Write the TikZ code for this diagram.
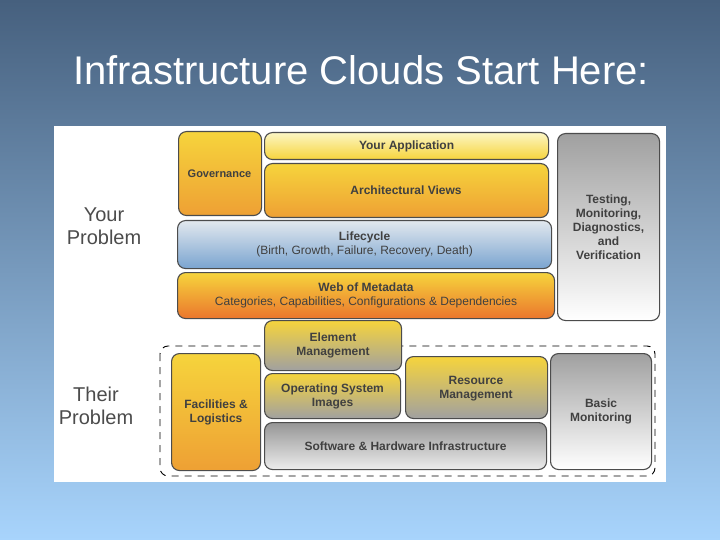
\documentclass[tikz,border=0pt]{standalone}
\usepackage{fontspec}
\setmainfont{Liberation Sans}
\definecolor{oy}{RGB}{246,212,60}
\definecolor{oo}{RGB}{238,160,52}
\definecolor{ly}{RGB}{252,246,196}
\definecolor{lb}{RGB}{226,232,238}
\definecolor{db}{RGB}{122,164,208}
\definecolor{rr}{RGB}{232,90,40}
\definecolor{gt}{RGB}{160,160,160}
\definecolor{gm}{RGB}{150,150,150}
\definecolor{bg1}{RGB}{70,96,126}
\definecolor{bg2}{RGB}{168,212,252}
\begin{document}
\begin{tikzpicture}[x=1pt,y=-1pt,
  bx/.style={draw=black!70,line width=1.1pt,rounded corners=8pt,align=center,font=\bfseries\fontsize{12}{14}\selectfont,text=black!75,inner sep=0pt},
  orng/.style={bx,top color=oy,bottom color=oo},
  yell/.style={bx,top color=ly,bottom color=oy},
  blu/.style={bx,top color=lb,bottom color=db},
  red/.style={bx,top color=oy,bottom color=rr!60!oo},
  gry/.style={bx,top color=gt,bottom color=white},
  yg/.style={bx,top color=oy,bottom color=gm!90},
  gg/.style={bx,top color=gm,bottom color=gray!15},
  lbl/.style={font=\fontsize{20}{23}\selectfont,text=black!70,align=center}]
\useasboundingbox (0,0) rectangle (720,540);
\shade[top color=bg1,bottom color=bg2] (0,0) rectangle (720,540);
\node[text=white,font=\fontsize{40}{44}\selectfont] (title) at (361,70) {Infrastructure Clouds Start Here:};
\fill[white] (54,126) rectangle (666,482);
\node[lbl] (yp) at (104,226) {Your\\Problem};
\node[lbl] (tp) at (96,406) {Their\\Problem};
\draw[dashed,dash pattern=on 7pt off 6pt,line width=0.9pt,rounded corners=8pt] (160,346) rectangle (655,476);
\node[orng,minimum width=83,minimum height=84,anchor=north west] (gov) at (178,131) {};
\node[font=\bfseries\fontsize{11}{13}\selectfont,text=black!75] (govt) at (219.5,174) {Governance};
\node[yell,minimum width=284,minimum height=27,anchor=north west] (app) at (264,132) {Your Application};
\node[orng,minimum width=284,minimum height=54,anchor=north west] (arch) at (264,163) {};
\node[font=\bfseries\fontsize{12}{14}\selectfont,text=black!75] (archt) at (406,190) {Architectural Views};
\node[blu,minimum width=374,minimum height=48,anchor=north west] (life) at (177,220) {Lifecycle\\\mdseries(Birth, Growth, Failure, Recovery, Death)};
\node[red,minimum width=377,minimum height=46,anchor=north west] (meta) at (177,272) {Web of Metadata\\\mdseries Categories, Capabilities, Configurations \& Dependencies};
\node[gry,minimum width=102,minimum height=187,anchor=north west] (test) at (557,133) {Testing,\\Monitoring,\\Diagnostics,\\and\\Verification};
\node[yg,minimum width=137,minimum height=50,anchor=north west] (elem) at (264,320) {Element\\Management};
\node[orng,minimum width=89,minimum height=117,anchor=north west] (fac) at (171,353) {Facilities \&\\Logistics};
\node[yg,minimum width=136,minimum height=45,anchor=north west] (os) at (264,373) {Operating System\\Images};
\node[yg,minimum width=142,minimum height=62,anchor=north west] (res) at (405,356) {};
\node[font=\bfseries\fontsize{12}{14}\selectfont,text=black!75,align=center] (rest) at (476,389) {Resource\\Management};
\node[gg,minimum width=282,minimum height=47,anchor=north west] (sw) at (264,422) {Software \& Hardware Infrastructure};
\node[gry,minimum width=101,minimum height=116,anchor=north west] (mon) at (550,353) {Basic\\Monitoring};
\end{tikzpicture}
\end{document}
